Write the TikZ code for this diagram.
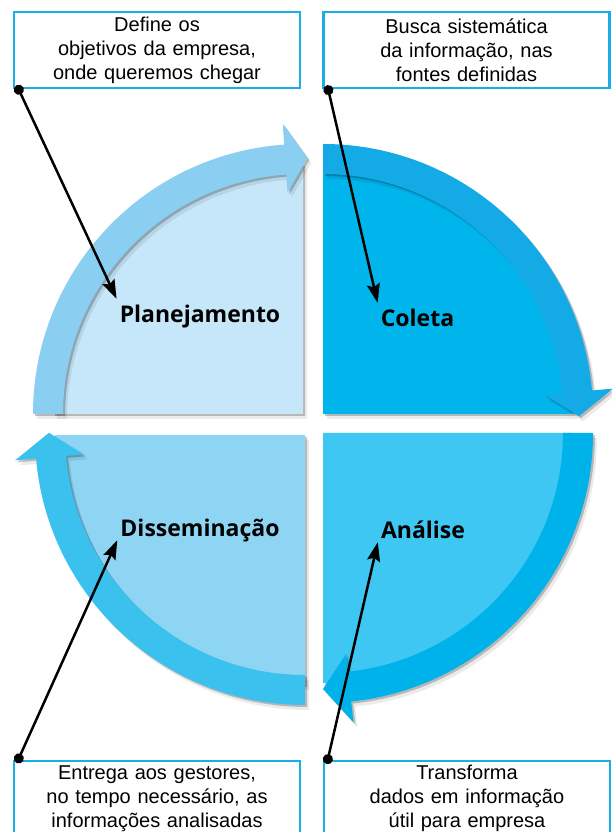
\documentclass[tikz,border=0pt]{standalone}
\usepackage{fontspec}
\setmainfont{Liberation Sans}
\newfontfamily\stagefont{Open Sans}
\usepackage{tikz}
\usetikzlibrary{arrows.meta, positioning}

\definecolor{boxline}{RGB}{27,174,230}
\definecolor{planfill}{RGB}{198,231,249}
\definecolor{planband}{RGB}{138,207,241}
\definecolor{colfill}{RGB}{0,181,236}
\definecolor{colband}{RGB}{20,170,230}
\definecolor{disfill}{RGB}{142,213,244}
\definecolor{disband}{RGB}{58,193,238}
\definecolor{anafill}{RGB}{62,199,242}
\definecolor{anaband}{RGB}{0,178,234}

\tikzstyle{textbox} = [rectangle, 
draw=boxline, 
line width=2.5pt, 
minimum width=286pt, 
text width=278pt, 
align=center, 
inner sep=4pt,
font=\fontsize{20}{24}\selectfont]
\tikzstyle{stage} = [anchor=base, 
inner sep=3pt, 
text height=21pt, 
text depth=0pt,
font=\stagefont\bfseries\fontsize{23}{27}\selectfont]
\tikzstyle{pointer} = [line width=2.5pt, {Circle[length=10pt]}-{Stealth[length=19pt,width=13pt,inset=3pt]}]
\tikzstyle{shadefar} = [fill=black, opacity=0.08]
\tikzstyle{shadenear} = [fill=black, opacity=0.22]

% quarter of the disc and its arrow band (start angle, head base, head tip)
\newcommand{\sector}[2]{(0,0) -- (#1:250pt) arc[start angle=#1, end angle=#2, radius=250pt] -- cycle}
\newcommand{\arcband}[3]{(#1:270pt) arc[start angle=#1, end angle=#2, radius=270pt] -- (#2:291pt) -- (#3:256pt) -- (#2:222pt) -- (#2:240pt) arc[start angle=#2, end angle=#1, radius=240pt] -- cycle}

\begin{document}
\begin{tikzpicture}[x=1pt, y=1pt]
\useasboundingbox (0,0) rectangle (611,832);

\coordinate (c1) at (303,418);
\coordinate (c2) at (323,418);
\coordinate (c3) at (305,397);
\coordinate (c4) at (323,399);

% Planejamento
\begin{scope}[shift={(c1)}]
\fill[shadefar, shift={(4,-5)}] \sector{180}{90};
\fill[shadenear, shift={(2,-2)}] \sector{180}{90};
\fill[planfill] \sector{180}{90};
\fill[shadefar, shift={(4,-5)}] \arcband{180}{94}{89};
\fill[shadenear, shift={(2,-2)}] \arcband{180}{94}{89};
\fill[planband] \arcband{180}{94}{89};
\end{scope}

% Coleta
\begin{scope}[shift={(c2)}]
\fill[shadefar, shift={(4,-5)}] \sector{90}{0};
\fill[shadenear, shift={(2,-2)}] \sector{90}{0};
\fill[colfill] \sector{90}{0};
\fill[shadefar, shift={(4,-5)}] \arcband{90}{5}{-0.5};
\fill[shadenear, shift={(2,-2)}] \arcband{90}{5}{-0.5};
\fill[colband] \arcband{90}{5}{-0.5};
\end{scope}

% Disseminacao
\begin{scope}[shift={(c3)}]
\fill[shadefar, shift={(4,-5)}] \sector{270}{180};
\fill[shadenear, shift={(2,-2)}] \sector{270}{180};
\fill[disfill] \sector{270}{180};
\fill[shadefar, shift={(4,-5)}] \arcband{270}{185}{179.5};
\fill[shadenear, shift={(2,-2)}] \arcband{270}{185}{179.5};
\fill[disband] \arcband{270}{185}{179.5};
\end{scope}

% Analise
\begin{scope}[shift={(c4)}]
\fill[shadefar, shift={(4,-5)}] \sector{0}{-90};
\fill[shadenear, shift={(2,-2)}] \sector{0}{-90};
\fill[anafill] \sector{0}{-90};
\fill[shadefar, shift={(4,-5)}] \arcband{360}{276}{270};
\fill[shadenear, shift={(2,-2)}] \arcband{360}{276}{270};
\fill[anaband] \arcband{360}{276}{270};
\end{scope}

\node (plan) [stage] at (200,509) {Planejamento};
\node (coleta) [stage] at (417.5,505) {Coleta};
\node (dissem) [stage] at (200,295) {Disseminação};
\node (analise) [stage] at (423,293) {Análise};

\node (planBox) [textbox, minimum height=76pt] at (157,782) {Define os\\objetivos da empresa,\\onde queremos chegar};
\node (coletaBox) [textbox, minimum height=76pt, minimum width=284pt] at (466.5,782) {Busca sistemática\\da informação, nas\\fontes definidas};
\node (dissemBox) [textbox, anchor=north] at (157,72) {Entrega aos gestores,\\no tempo necessário, as\\informações analisadas};
\node (analiseBox) [textbox, anchor=north, minimum width=284pt] at (467,72) {Transforma\\dados em informação\\útil para empresa};

\coordinate (planDot) at ([shift={(4,4)}]planBox.south west);
\coordinate (coletaDot) at ([shift={(5,4)}]coletaBox.south west);
\coordinate (dissemDot) at ([shift={(4,-3)}]dissemBox.north west);
\coordinate (analiseDot) at ([shift={(4,-4)}]analiseBox.north west);

\draw [pointer] (planDot) -- (plan.north west);
\draw [pointer] (coletaDot) -- (coleta.north west);
\draw [pointer] (dissemDot) -- (dissem.south west);
\draw [pointer] (analiseDot) -- (analise.south west);

\end{tikzpicture}
\end{document}
